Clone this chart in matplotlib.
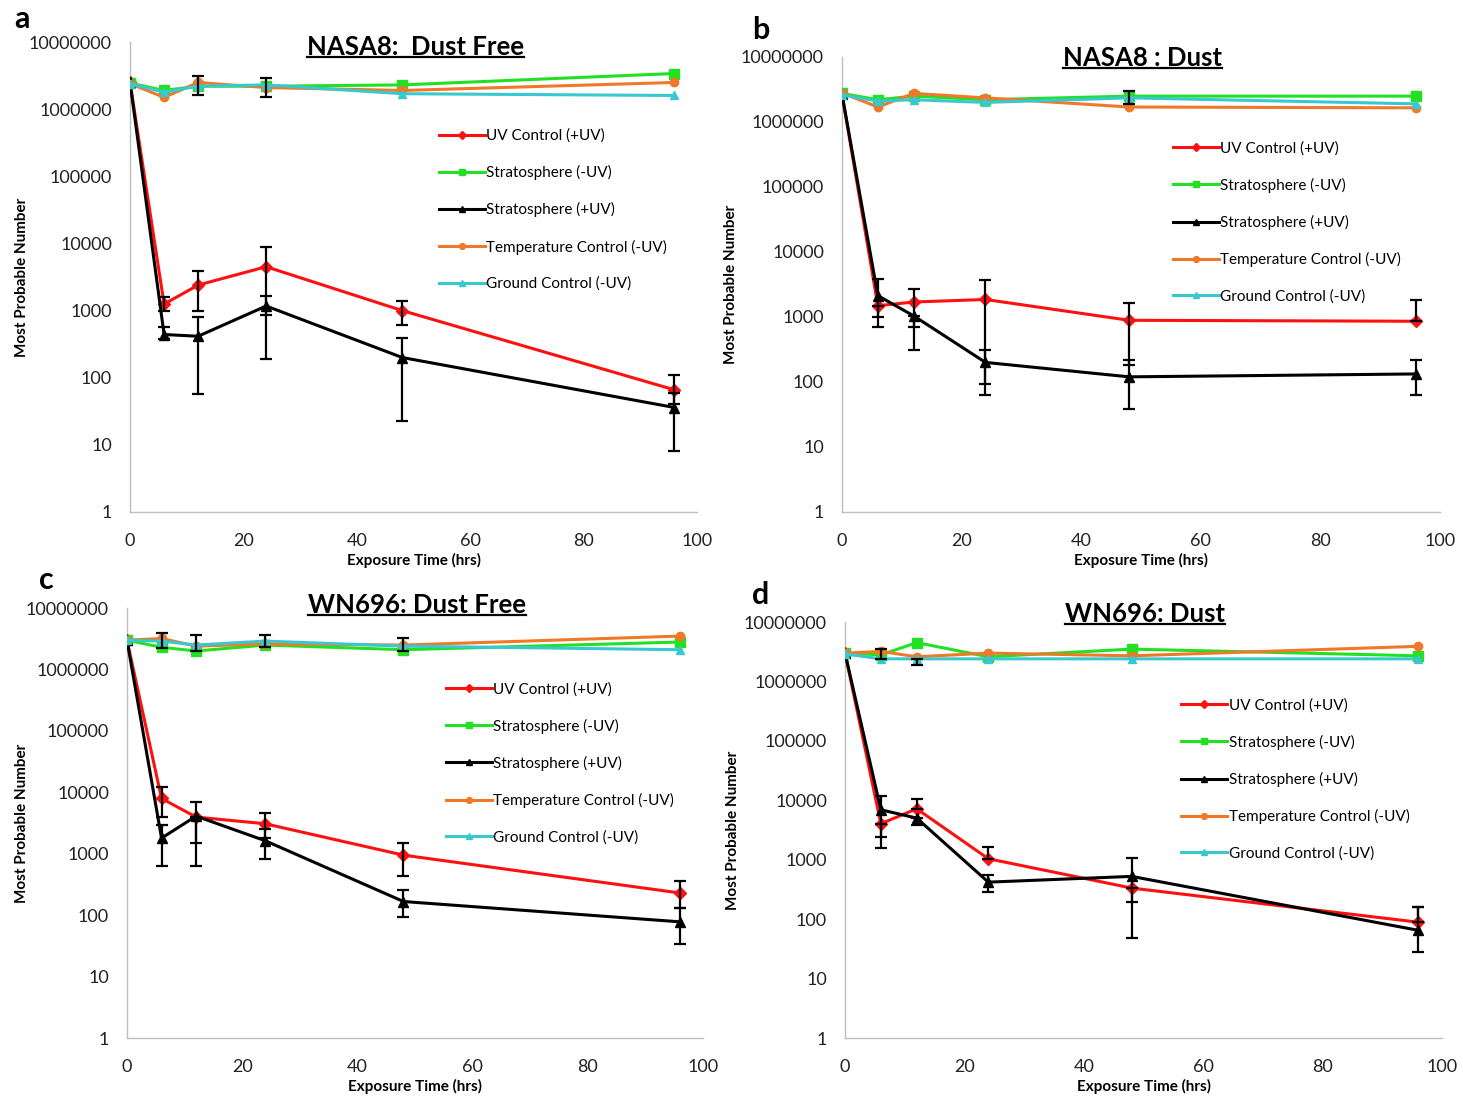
import numpy as np
import matplotlib.pyplot as plt
from matplotlib.lines import Line2D

plt.rcParams['font.family'] = ['Lato', 'DejaVu Sans']

hours = [0, 6, 12, 24, 48, 96]
labels = ['UV Control (+UV)', 'Stratosphere (-UV)', 'Stratosphere (+UV)',
          'Temperature Control (-UV)', 'Ground Control (-UV)']

# panel a : NASA8 dust free
a_uv = [2.5e6, 1250, 2400, 4500, 1000, 66]
a_strat_dark = [2.45e6, 1.9e6, 2.2e6, 2.2e6, 2.3e6, 3.4e6]
a_strat_uv = [2.5e6, 440, 415, 1170, 200, 36]
a_temp = [2.4e6, 1.5e6, 2.5e6, 2.1e6, 1.9e6, 2.5e6]
a_ground = [2.4e6, 1.8e6, 2.2e6, 2.3e6, 1.7e6, 1.6e6]
a_uv_lo = [None, 1000, 1000, 860, 610, 40]
a_uv_hi = [None, 1600, 3900, 8900, 1400, 108]
a_strat_uv_lo = [None, 380, 58, 187, 23, 8]
a_strat_uv_hi = [None, 560, 810, 1630, 390, 60]
a_ground_lo = [None, None, 1.6e6, 1.5e6, None, None]
a_ground_hi = [None, None, 3.1e6, 2.9e6, None, None]

# panel b : NASA8 dust
b_uv = [2.7e6, 1490, 1700, 1860, 890, 860]
b_strat_dark = [2.75e6, 2.2e6, 2.5e6, 2.2e6, 2.5e6, 2.5e6]
b_strat_uv = [2.7e6, 2130, 1040, 200, 120, 133]
b_temp = [2.8e6, 1.7e6, 2.75e6, 2.35e6, 1.7e6, 1.65e6]
b_ground = [2.6e6, 2.1e6, 2.2e6, 2.0e6, 2.35e6, 1.9e6]
b_uv_lo = [None, 1000, 700, 93, 184, None]
b_uv_hi = [None, None, 2700, 3700, 1620, 1830]
b_strat_uv_lo = [None, 710, 315, 62, 38, 62]
b_strat_uv_hi = [None, 3800, None, 315, 217, 217]
b_ground_lo = [None, None, None, None, 1.9e6, None]
b_ground_hi = [None, None, None, None, 3.0e6, None]

# panel c : WN696 dust free
c_uv = [3.0e6, 7950, 3960, 3080, 950, 230]
c_strat_dark = [3.0e6, 2.3e6, 2.0e6, 2.5e6, 2.1e6, 2.8e6]
c_strat_uv = [3.0e6, 1800, 4100, 1630, 167, 78]
c_temp = [3.0e6, 3.2e6, 2.4e6, 2.6e6, 2.5e6, 3.5e6]
c_ground = [3.0e6, 2.9e6, 2.5e6, 2.9e6, 2.4e6, 2.1e6]
c_uv_lo = [None, 4000, 1490, 1800, 440, 130]
c_uv_hi = [None, 12300, None, 4670, 1490, 355]
c_strat_uv_lo = [None, 630, 630, 830, 92, 34]
c_strat_uv_hi = [None, 2900, 6950, 2500, 260, 130]
c_ground_lo = [None, 2.2e6, 2.0e6, 2.3e6, 2.0e6, None]
c_ground_hi = [None, 3.9e6, 3.6e6, 3.6e6, 3.2e6, None]

# panel d : WN696 dust
d_uv = [3.0e6, 4040, 7200, 1040, 334, 89]
d_strat_dark = [3.0e6, 2.8e6, 4.5e6, 2.6e6, 3.5e6, 2.7e6]
d_strat_uv = [3.0e6, 6930, 5020, 420, 525, 65]
d_temp = [3.0e6, 3.2e6, 2.6e6, 3.0e6, 2.7e6, 3.9e6]
d_ground = [2.9e6, 2.4e6, 2.4e6, 2.4e6, 2.4e6, 2.4e6]
d_uv_lo = [None, 1580, None, None, 195, None]
d_uv_hi = [None, None, 10700, 1620, None, 160]
d_strat_uv_lo = [None, 2400, 3800, 287, 48, 28]
d_strat_uv_hi = [None, 12000, None, 550, 1070, 160]
d_ground_lo = [None, None, 1.9e6, None, None, None]
d_ground_hi = [None, 3.5e6, None, None, None, None]

colors = ['#FF1010', '#22E022', '#000000', '#F07828', '#38C8D0']
markers = ['D', 's', '^', 'o', '^']
msizes = [6, 7, 7, 6, 6]


def draw_err(ax, y, lo, hi):
    for x, v, l, h in zip(hours, y, lo, hi):
        if l is None and h is None:
            continue
        low = v - l if l is not None else 0
        up = h - v if h is not None else 0
        ax.errorbar([x], [v], yerr=[[low], [up]], fmt='none', ecolor='black',
                    elinewidth=1.6, capsize=4, capthick=1.6, zorder=6)


def draw_panel(ax, series, errs, title, letter, letter_pos, leg_anchor,
               title_y, ylabel_pad):
    for y, lab, c, m, ms in zip(series, labels, colors, markers, msizes):
        ax.plot(hours, y, color=c, marker=m, markersize=ms, lw=2.2, label=lab,
                zorder=4)
    for y, lo, hi in errs:
        draw_err(ax, y, lo, hi)
    ax.set_yscale('log')
    ax.set_ylim(1, 1e7)
    ax.set_xlim(0, 100)
    ax.set_xticks([0, 20, 40, 60, 80, 100])
    ax.set_yticks([1, 10, 100, 1000, 10000, 100000, 1000000, 10000000])
    ax.set_yticklabels(['1', '10', '100', '1000', '10000', '100000',
                        '1000000', '10000000'])
    ax.minorticks_off()
    ax.tick_params(length=0, labelsize=13, colors='#222222')
    ax.tick_params(axis='x', pad=15)
    ax.tick_params(axis='y', pad=13)
    for s in ['top', 'right']:
        ax.spines[s].set_visible(False)
    for s in ['left', 'bottom']:
        ax.spines[s].set_color('#bfbfbf')
        ax.spines[s].set_linewidth(1.0)
    ax.set_xlabel('Exposure Time (hrs)', fontsize=11, fontweight='bold',
                  labelpad=3)
    ax.set_ylabel('Most Probable Number', fontsize=11, fontweight='bold',
                  labelpad=ylabel_pad)
    ax.text(0.503, title_y, title, transform=ax.transAxes, fontsize=18.5,
            fontweight='bold', ha='center', va='center', zorder=10,
            gid='title')
    ax.legend(loc='upper left', bbox_to_anchor=leg_anchor, frameon=False,
              fontsize=11, labelspacing=1.45, handlelength=3.0,
              handletextpad=0.1, markerscale=0.7)
    ax.text(letter_pos[0], letter_pos[1], letter, transform=ax.transAxes,
            fontsize=22, fontweight='bold', va='center', ha='left')


fig = plt.figure(figsize=(14.63, 10.98), dpi=100)
ax_a = fig.add_axes([0.0889, 0.5337, 0.3876, 0.428])
ax_b = fig.add_axes([0.5755, 0.5337, 0.4088, 0.4144])
ax_c = fig.add_axes([0.0868, 0.0546, 0.3937, 0.3916])
ax_d = fig.add_axes([0.5776, 0.0546, 0.4081, 0.3789])

draw_panel(ax_a, [a_uv, a_strat_dark, a_strat_uv, a_temp, a_ground],
           [(a_uv, a_uv_lo, a_uv_hi), (a_strat_uv, a_strat_uv_lo, a_strat_uv_hi),
            (a_ground, a_ground_lo, a_ground_hi)],
           'NASA8:  Dust Free', 'a', (-0.205, 1.05), (0.52, 0.845), 0.99, 0)
draw_panel(ax_b, [b_uv, b_strat_dark, b_strat_uv, b_temp, b_ground],
           [(b_uv, b_uv_lo, b_uv_hi), (b_strat_uv, b_strat_uv_lo, b_strat_uv_hi),
            (b_ground, b_ground_lo, b_ground_hi)],
           'NASA8 : Dust', 'b', (-0.15, 1.06), (0.53, 0.845), 0.998, 2)
draw_panel(ax_c, [c_uv, c_strat_dark, c_strat_uv, c_temp, c_ground],
           [(c_uv, c_uv_lo, c_uv_hi), (c_strat_uv, c_strat_uv_lo, c_strat_uv_hi),
            (c_ground, c_ground_lo, c_ground_hi)],
           'WN696: Dust Free', 'c', (-0.152, 1.065), (0.53, 0.86), 1.007, -2)
draw_panel(ax_d, [d_uv, d_strat_dark, d_strat_uv, d_temp, d_ground],
           [(d_uv, d_uv_lo, d_uv_hi), (d_strat_uv, d_strat_uv_lo, d_strat_uv_hi),
            (d_ground, d_ground_lo, d_ground_hi)],
           'WN696: Dust', 'd', (-0.155, 1.065), (0.54, 0.85), 1.02, 3)

# underline each title
fig.canvas.draw()
renderer = fig.canvas.get_renderer()
for ax in [ax_a, ax_b, ax_c, ax_d]:
    for t in ax.texts:
        if t.get_gid() == 'title':
            bb = t.get_window_extent(renderer)
            y0 = bb.y0 + 2
            fig.add_artist(Line2D([bb.x0, bb.x1], [y0, y0], transform=None,
                                  color='black', lw=1.6))

fig.savefig('out.png', dpi=100)
